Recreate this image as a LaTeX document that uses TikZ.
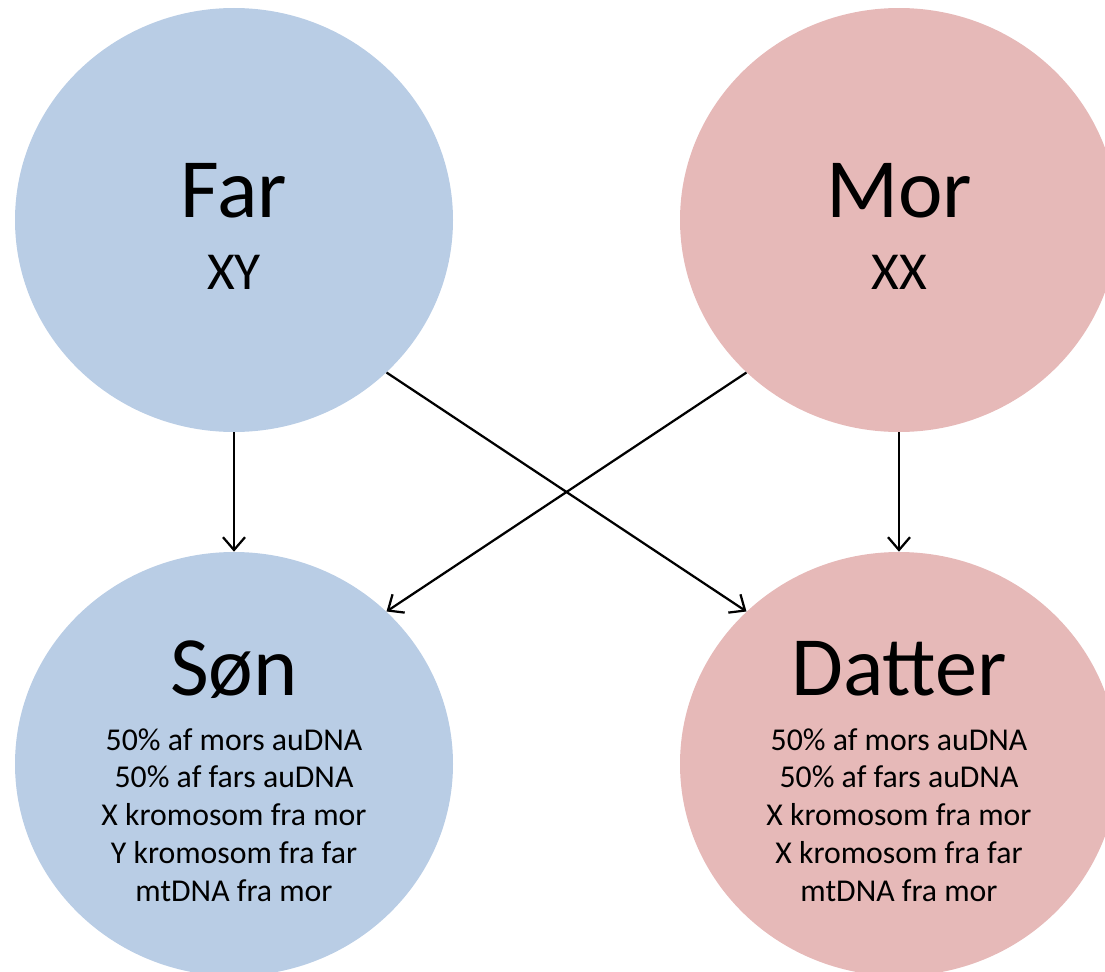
\documentclass[tikz,border=0pt]{standalone}
\usepackage{fontspec}
\setmainfont{Carlito}
\usetikzlibrary{shapes.geometric,arrows.meta}
\definecolor{boyblue}{HTML}{B9CDE5}
\definecolor{girlpink}{HTML}{E6B9B8}

\begin{document}
\begin{tikzpicture}[
    person/.style={ellipse,minimum width=10.95cm,minimum height=10.6cm,inner sep=0pt},
    persontxt/.style={font=\fontsize{60}{72}\selectfont,anchor=base,inner sep=0pt},
    chromtxt/.style={font=\fontsize{38}{46}\selectfont,anchor=base,inner sep=0pt},
    genetxt/.style={font=\fontsize{22.6}{26.9}\selectfont,align=center,anchor=north,inner sep=0pt},
    inherit/.style={-{Straight Barb[length=0.32cm,width=0.55cm]},line width=1.6pt}
  ]
  \useasboundingbox (0,0) rectangle (27.625,-24.275);
  \clip (0,0) rectangle (27.625,-24.275);
  % parents
  \node[person,fill=boyblue] (far) at (5.85,-5.5) {};
  \node[person,fill=girlpink] (mor) at (22.475,-5.5) {};
  \node[persontxt] (far-name) at (5.85,-5.425) {Far};
  \node[chromtxt] (far-chrom) at (5.85,-7.225) {XY};
  \node[persontxt] (mor-name) at (22.475,-5.425) {Mor};
  \node[chromtxt] (mor-chrom) at (22.475,-7.225) {XX};
  % children
  \node[person,fill=boyblue] (son) at (5.85,-19.1) {};
  \node[person,fill=girlpink] (datter) at (22.475,-19.1) {};
  \node[persontxt] (son-name) at (5.85,-17.375) {Søn};
  \node[genetxt] (son-genes) at (5.85,-18.2)
    {50\% af mors auDNA\\ 50\% af fars auDNA\\ X kromosom fra mor\\
     Y kromosom fra far\\ mtDNA fra mor};
  \node[persontxt] (datter-name) at (22.475,-17.375) {Datter};
  \node[genetxt] (datter-genes) at (22.475,-18.2)
    {50\% af mors auDNA\\ 50\% af fars auDNA\\ X kromosom fra mor\\
     X kromosom fra far\\ mtDNA fra mor};
  % inheritance
  \draw[inherit] (far.south) -- (son.north);
  \draw[inherit] (mor.south) -- (datter.north);
  \draw[inherit] (far.-45) -- (datter.135);
  \draw[inherit] (mor.-135) -- (son.45);
\end{tikzpicture}
\end{document}
